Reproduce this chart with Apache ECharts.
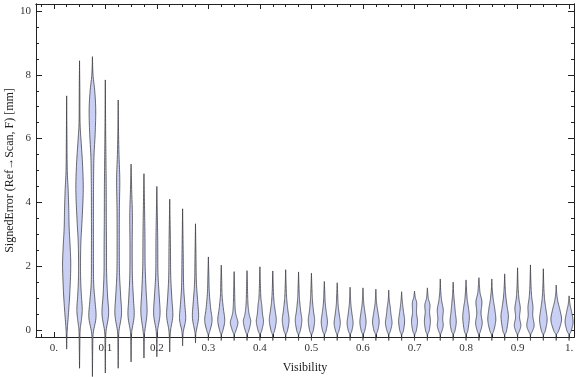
<!DOCTYPE html>
<html>
<head>
<meta charset="utf-8">
<script src="https://cdn.jsdelivr.net/npm/echarts@6/dist/echarts.min.js"></script>
<style>html,body{margin:0;padding:0;background:#fff}#c{width:576px;height:377px}</style>
</head>
<body>
<div id="c"></div>
<script>
// ---- data ----
const positions = [0.025,0.05,0.075,0.1,0.125,0.15,0.175,0.2,0.225,0.25,0.275,0.3,0.325,0.35,0.375,0.4,0.425,0.45,0.475,0.5,
                   0.525,0.55,0.575,0.6,0.625,0.65,0.675,0.7,0.725,0.75,0.775,0.8,0.825,0.85,0.875,0.9,0.925,0.95,0.975,1.0];
const lows  = [-0.6,-1.2,-1.46,-1.35,-1.2,-1.0,-0.88,-0.84,-0.69,-0.5,-0.41,-0.33,-0.33,-0.33,-0.33,-0.33,-0.33,-0.33,-0.33,-0.33,
               -0.33,-0.33,-0.33,-0.33,-0.33,-0.33,-0.33,-0.33,-0.33,-0.33,-0.33,-0.33,-0.33,-0.33,-0.33,-0.33,-0.33,-0.33,-0.33,-0.33];
const highs = [7.34,8.44,8.57,7.84,7.21,5.2,4.9,4.5,4.1,3.8,3.33,2.29,2.03,1.83,1.86,1.98,1.85,1.89,1.82,1.78,
               1.52,1.48,1.34,1.32,1.28,1.25,1.2,1.22,1.32,1.6,1.5,1.57,1.64,1.6,1.76,1.95,2.04,1.92,1.41,1.07];
// density profile knots: [signed error, relative density]
const shapes = [
 [[-0.2,0.3],[0.1,0.8],[0.6,2.0],[1.2,3.2],[2.0,4.1],[2.6,3.5],[3.2,2.5],[3.8,2.1],[4.4,1.5],[5.0,0.6],[6.0,0.3]],
 [[-0.5,0.3],[0.0,0.6],[0.3,1.8],[0.65,2.7],[1.1,1.8],[1.6,1.1],[2.2,1.0],[2.8,1.4],[3.5,2.6],[4.4,3.7],[5.2,3.0],[5.9,1.6],[6.5,0.5],[7.5,0.3]],
 [[-0.6,0.3],[-0.1,0.8],[0.4,3.6],[0.9,2.6],[1.5,1.2],[2.5,1.0],[3.5,1.0],[4.5,1.1],[5.4,1.5],[6.2,2.8],[6.9,3.3],[7.5,2.3],[8.0,0.6]],
 [[-0.5,0.3],[-0.05,0.7],[0.5,3.3],[1.1,2.2],[1.8,1.3],[2.6,1.2],[3.5,1.0],[4.5,0.9],[5.5,0.6],[6.5,0.3]],
 [[-0.5,0.3],[-0.05,0.7],[0.5,3.3],[1.1,2.4],[1.8,1.3],[2.8,1.1],[3.8,1.2],[4.7,1.6],[5.5,0.8],[6.3,0.3]],
 [[-0.4,0.3],[-0.05,0.7],[0.45,3.1],[1.0,2.3],[1.7,1.3],[2.6,1.1],[3.6,1.3],[4.4,0.6]],
 [[-0.35,0.3],[-0.05,0.8],[0.55,3.1],[1.2,2.2],[2.0,1.2],[2.9,1.0],[3.8,0.6]],
 [[-0.3,0.3],[0,0.8],[0.5,3.2],[1.1,2.3],[1.8,1.1],[2.8,0.9],[3.6,0.5]],
 [[-0.3,0.3],[0,0.9],[0.45,3.1],[1.0,2.1],[1.7,1.0],[2.7,0.7]],
 [[-0.2,0.3],[0,1.0],[0.35,3.1],[0.8,2.2],[1.4,1.0],[2.4,0.6]],
 [[-0.15,0.3],[0,1.0],[0.4,3.1],[0.9,2.2],[1.5,0.9],[2.3,0.5]],
 [[-0.15,0.3],[-0.02,1.6],[0.3,3.7],[0.7,2.2],[1.2,0.9],[1.7,0.5]],
 [[-0.15,0.3],[-0.02,1.6],[0.3,3.5],[0.7,2.0],[1.1,0.8],[1.5,0.5]],
 [[-0.15,0.3],[-0.02,1.8],[0.22,3.8],[0.4,2.5],[0.55,1.4],[0.8,0.8],[1.2,0.5]],
 [[-0.15,0.3],[-0.02,1.8],[0.26,3.7],[0.45,2.4],[0.6,1.6],[0.85,0.9],[1.25,0.5]],
 [[-0.15,0.3],[-0.02,1.8],[0.26,3.6],[0.5,2.6],[0.8,1.8],[1.0,1.0],[1.4,0.5]],
 [[-0.15,0.3],[-0.02,1.8],[0.3,3.5],[0.6,2.4],[0.9,1.2],[1.3,0.5]],
 [[-0.15,0.3],[-0.02,1.8],[0.3,3.4],[0.6,2.3],[0.95,1.1],[1.35,0.5]],
 [[-0.15,0.3],[-0.02,1.8],[0.3,3.3],[0.6,2.1],[0.95,1.0],[1.3,0.5]],
 [[-0.15,0.3],[-0.02,1.8],[0.3,3.2],[0.6,2.0],[0.95,1.0],[1.3,0.5]],
 [[-0.15,0.3],[-0.02,1.8],[0.25,3.1],[0.55,2.0],[0.85,0.9],[1.15,0.5]],
 [[-0.15,0.3],[-0.02,1.8],[0.22,3.1],[0.5,2.0],[0.8,0.9],[1.1,0.5]],
 [[-0.15,0.3],[-0.02,1.8],[0.22,3.0],[0.5,1.9],[0.8,0.8],[1.05,0.4]],
 [[-0.15,0.3],[-0.02,1.8],[0.25,3.1],[0.55,2.0],[0.8,0.9],[1.05,0.4]],
 [[-0.15,0.3],[-0.02,1.9],[0.25,3.3],[0.55,2.1],[0.8,0.9],[1.0,0.4]],
 [[-0.15,0.3],[-0.02,1.8],[0.22,3.3],[0.5,2.2],[0.72,1.5],[0.95,0.5]],
 [[-0.15,0.3],[-0.02,1.8],[0.28,3.0],[0.55,2.0],[0.8,1.0],[1.0,0.4]],
 [[-0.15,0.3],[-0.02,1.8],[0.26,3.0],[0.55,2.0],[0.85,2.2],[1.02,0.8]],
 [[-0.15,0.3],[-0.02,1.8],[0.26,3.0],[0.55,2.2],[0.78,2.6],[0.98,1.0],[1.15,0.4]],
 [[-0.15,0.3],[-0.02,1.8],[0.15,3.0],[0.35,2.4],[0.63,3.0],[0.9,1.5],[1.2,0.5]],
 [[-0.15,0.3],[-0.02,1.8],[0.25,3.1],[0.55,2.2],[0.85,1.3],[1.15,0.5]],
 [[-0.15,0.3],[-0.02,1.8],[0.38,3.3],[0.7,2.4],[0.95,1.2],[1.25,0.5]],
 [[-0.15,0.3],[-0.02,1.8],[0.22,3.3],[0.53,2.1],[0.88,3.0],[1.15,1.2],[1.4,0.5]],
 [[-0.15,0.3],[-0.02,2.0],[0.31,4.0],[0.65,3.0],[0.95,1.5],[1.25,0.5]],
 [[-0.15,0.3],[-0.02,1.9],[0.41,3.7],[0.7,2.6],[1.0,1.3],[1.35,0.5]],
 [[-0.15,0.3],[-0.02,2.0],[0.15,3.3],[0.4,2.0],[0.69,2.7],[1.0,1.3],[1.4,0.5]],
 [[-0.15,0.3],[-0.02,2.2],[0.15,3.7],[0.45,2.3],[0.73,2.5],[1.05,1.2],[1.45,0.5]],
 [[-0.15,0.3],[-0.02,2.0],[0.31,3.8],[0.6,2.8],[0.95,1.3],[1.35,0.5]],
 [[-0.15,0.3],[-0.02,2.5],[0.31,5.3],[0.62,3.8],[0.9,1.6],[1.15,0.5]],
 [[-0.15,0.3],[-0.02,2.2],[0.25,4.0],[0.55,2.6],[0.8,0.9]]
];
const xTickValues = [0,0.1,0.2,0.3,0.4,0.5,0.6,0.7,0.8,0.9,1.0];
const xTickLabels = ['0.','0.1','0.2','0.3','0.4','0.5','0.6','0.7','0.8','0.9','1.'];
const yTickValues = [0,2,4,6,8,10];
const yTickLabels = ['0','2','4','6','8','10'];

// ---- styling / layout ----
const X_MIN = -0.0345, X_MAX = 1.0095, Y_MIN = -0.22, Y_MAX = 10.22;
const DENS_SCALE = 0.00194; // x-units per density unit
const FONT = '"Liberation Serif", "DejaVu Serif", serif';
const AX = '#222';

const xMinor = [], yMinor = [];
for (let k = -1; k <= 40; k++) { const v = Math.round(k * 25) / 1000; if (k % 4 !== 0 && v >= X_MIN && v <= X_MAX) xMinor.push(v); }
for (let k = 0; k <= 20; k++) { const v = k * 0.5; if (k % 4 !== 0) yMinor.push(v); }

function xAxisDef(pos, values, len, labels) {
  return {
    type: 'value', position: pos, min: X_MIN, max: X_MAX,
    axisLine: { show: true, onZero: false, lineStyle: { color: AX, width: 1 } },
    axisTick: { show: true, inside: true, length: len, customValues: values, lineStyle: { color: AX, width: 1 } },
    axisLabel: labels ? {
      show: true, customValues: xTickValues, margin: 6,
      formatter: v => { const i = xTickValues.findIndex(t => Math.abs(t - v) < 1e-9); return i >= 0 ? xTickLabels[i] : ''; },
      fontFamily: FONT, fontSize: 11, color: '#333'
    } : { show: false },
    splitLine: { show: false }
  };
}
function yAxisDef(pos, values, len, labels) {
  return {
    type: 'value', position: pos, min: Y_MIN, max: Y_MAX,
    axisLine: { show: true, onZero: false, lineStyle: { color: AX, width: 1 } },
    axisTick: { show: true, inside: true, length: len, customValues: values, lineStyle: { color: AX, width: 1 } },
    axisLabel: labels ? {
      show: true, customValues: yTickValues, margin: 5,
      formatter: v => { const i = yTickValues.findIndex(t => Math.abs(t - v) < 1e-9); return i >= 0 ? yTickLabels[i] : ''; },
      fontFamily: FONT, fontSize: 11, color: '#333'
    } : { show: false },
    splitLine: { show: false }
  };
}

const xAxes = [
  Object.assign(xAxisDef('bottom', xTickValues, 5, true), {
    name: 'Visibility', nameLocation: 'middle', nameGap: 25, nameMoveOverlap: false,
    nameTextStyle: { fontFamily: FONT, fontSize: 12, color: '#222' } }),
  xAxisDef('bottom', xMinor, 3, false),
  xAxisDef('top', xTickValues, 5, false),
  xAxisDef('top', xMinor, 3, false)
];
const yAxes = [
  Object.assign(yAxisDef('left', yTickValues, 6, true), {
    name: 'SignedError (Ref\u2192Scan, F) [mm]', nameLocation: 'middle', nameGap: 20, nameMoveOverlap: false,
    nameTextStyle: { fontFamily: FONT, fontSize: 12, color: '#222' } }),
  yAxisDef('left', yMinor, 3, false),
  yAxisDef('right', yTickValues, 6, false),
  yAxisDef('right', yMinor, 3, false)
];

// Catmull-Rom sampling of a polyline
function smoothSide(pts) {
  const out = [];
  const n = pts.length;
  for (let i = 0; i < n - 1; i++) {
    const p0 = pts[Math.max(i - 1, 0)], p1 = pts[i], p2 = pts[i + 1], p3 = pts[Math.min(i + 2, n - 1)];
    const c1 = [p1[0] + (p2[0] - p0[0]) / 6, p1[1] + (p2[1] - p0[1]) / 6];
    const c2 = [p2[0] - (p3[0] - p1[0]) / 6, p2[1] - (p3[1] - p1[1]) / 6];
    const steps = 10;
    for (let s = 0; s < steps; s++) {
      const t = s / steps, u = 1 - t;
      out.push([
        u*u*u*p1[0] + 3*u*u*t*c1[0] + 3*u*t*t*c2[0] + t*t*t*p2[0],
        u*u*u*p1[1] + 3*u*u*t*c1[1] + 3*u*t*t*c2[1] + t*t*t*p2[1]
      ]);
    }
  }
  out.push(pts[n - 1]);
  return out;
}

const seriesData = positions.map((p, i) => [p, highs[i], i]);

const chart = echarts.init(document.getElementById('c'), null, { renderer: 'canvas' });
chart.setOption({
  animation: false,
  backgroundColor: '#fff',
  grid: { left: 36, right: 2, top: 4, bottom: 40, containLabel: false, outerBoundsMode: 'none' },
  xAxis: xAxes,
  yAxis: yAxes,
  series: [{
    type: 'custom',
    xAxisIndex: 0, yAxisIndex: 0,
    clip: false,
    data: seriesData,
    renderItem: function (params, api) {
      const x = api.value(0);
      const i = api.value(2);
      const prof = [[lows[i], 0]].concat(shapes[i], [[highs[i], 0]]);
      const right = prof.map(k => api.coord([x + k[1] * DENS_SCALE, k[0]]));
      const left = prof.slice().reverse().map(k => api.coord([x - k[1] * DENS_SCALE, k[0]]));
      const pts = smoothSide(right).concat(smoothSide(left).slice(1));
      return {
        type: 'polygon',
        shape: { points: pts },
        style: { fill: '#c9d0f4', stroke: 'rgba(50,50,55,0.9)', lineWidth: 0.8 }
      };
    }
  }]
});
</script>
</body>
</html>
